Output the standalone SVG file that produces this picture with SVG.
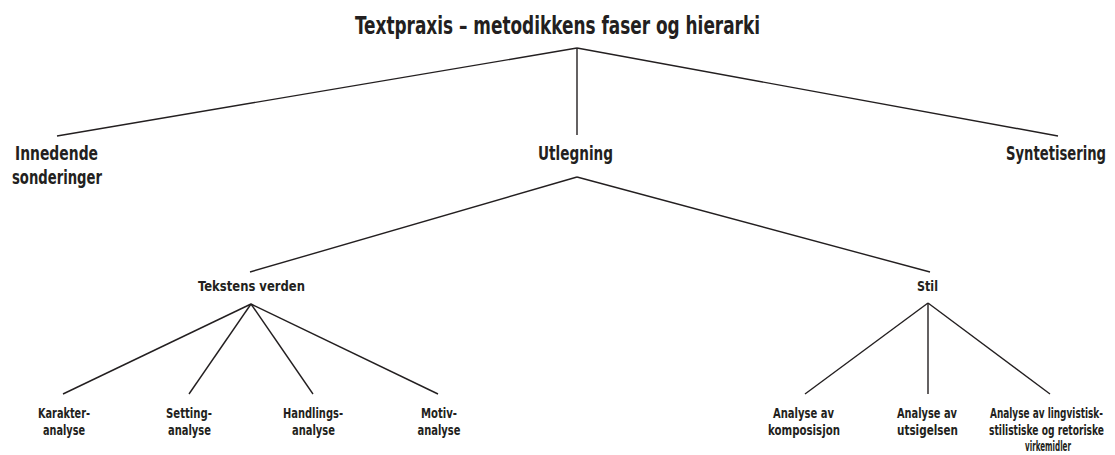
<svg xmlns="http://www.w3.org/2000/svg" width="1115" height="455" viewBox="0 0 1115 455">
<style>
text{font-family:"DejaVu Sans Condensed","DejaVu Sans",sans-serif;font-stretch:condensed;font-weight:bold;fill:#231f20}
.t0{font-size:24px}.t1{font-size:19px}.t2{font-size:14.5px}.t3{font-size:13.5px}
.c line{stroke:#231f20;stroke-width:1.4;fill:none}
</style>
<rect width="1115" height="455" fill="#fff"/>
<g class="c" id="connectors">
<line x1="577" y1="48" x2="57" y2="136"/>
<line x1="577" y1="48" x2="577" y2="135"/>
<line x1="577" y1="48" x2="1058" y2="136"/>
<line x1="577" y1="177" x2="250" y2="272"/>
<line x1="577" y1="177" x2="930" y2="272"/>
<line x1="251" y1="304" x2="63" y2="394"/>
<line x1="251" y1="304" x2="189" y2="394"/>
<line x1="251" y1="304" x2="313" y2="394"/>
<line x1="251" y1="304" x2="438" y2="394"/>
<line x1="928" y1="303" x2="805" y2="394"/>
<line x1="928" y1="303" x2="928" y2="394"/>
<line x1="928" y1="303" x2="1050" y2="394"/>
</g>
<g id="title"><text class="t0" x="355" y="34" textLength="405" lengthAdjust="spacingAndGlyphs">Textpraxis – metodikkens faser og hierarki</text></g>
<g id="innedende"><text class="t1" x="15" y="160" textLength="83" lengthAdjust="spacingAndGlyphs">Innedende</text><text class="t1" x="12" y="184" textLength="90" lengthAdjust="spacingAndGlyphs">sonderinger</text></g>
<g id="utlegning"><text class="t1" x="538" y="160" textLength="75" lengthAdjust="spacingAndGlyphs">Utlegning</text></g>
<g id="syntetisering"><text class="t1" transform="translate(1006 160) scale(0.7 1)" x="0" y="0" textLength="142.86" lengthAdjust="spacingAndGlyphs">Syntetisering</text></g>
<g id="tekstens"><text class="t2" x="198" y="291" textLength="107" lengthAdjust="spacingAndGlyphs">Tekstens verden</text></g>
<g id="stil"><text class="t2" x="917" y="291" textLength="21" lengthAdjust="spacingAndGlyphs">Stil</text></g>
<g id="karakter"><text class="t3" x="38" y="418" textLength="52" lengthAdjust="spacingAndGlyphs">Karakter-</text><text class="t3" x="43" y="434.5" textLength="42" lengthAdjust="spacingAndGlyphs">analyse</text></g>
<g id="setting"><text class="t3" x="166" y="418" textLength="46" lengthAdjust="spacingAndGlyphs">Setting-</text><text class="t3" x="168" y="434.5" textLength="43" lengthAdjust="spacingAndGlyphs">analyse</text></g>
<g id="handlings"><text class="t3" x="283" y="418" textLength="60" lengthAdjust="spacingAndGlyphs">Handlings-</text><text class="t3" x="292" y="434.5" textLength="43" lengthAdjust="spacingAndGlyphs">analyse</text></g>
<g id="motiv"><text class="t3" x="421" y="418" textLength="36" lengthAdjust="spacingAndGlyphs">Motiv-</text><text class="t3" x="417.5" y="434.5" textLength="43" lengthAdjust="spacingAndGlyphs">analyse</text></g>
<g id="komposisjon"><text class="t3" x="773" y="418" textLength="61" lengthAdjust="spacingAndGlyphs">Analyse av</text><text class="t3" x="768" y="434.5" textLength="72" lengthAdjust="spacingAndGlyphs">komposisjon</text></g>
<g id="utsigelsen"><text class="t3" x="897" y="418" textLength="60" lengthAdjust="spacingAndGlyphs">Analyse av</text><text class="t3" x="897" y="434.5" textLength="61" lengthAdjust="spacingAndGlyphs">utsigelsen</text></g>
<g id="virkemidler"><text class="t3" transform="translate(990 418) scale(0.65 1)" x="0" y="0" textLength="173.85" lengthAdjust="spacingAndGlyphs">Analyse av lingvistisk-</text><text class="t3" transform="translate(989 434.5) scale(0.65 1)" x="0" y="0" textLength="176.92" lengthAdjust="spacingAndGlyphs">stilistiske og retoriske</text><text class="t3" x="1025" y="451" textLength="46" lengthAdjust="spacingAndGlyphs">virkemidler</text></g>
</svg>
